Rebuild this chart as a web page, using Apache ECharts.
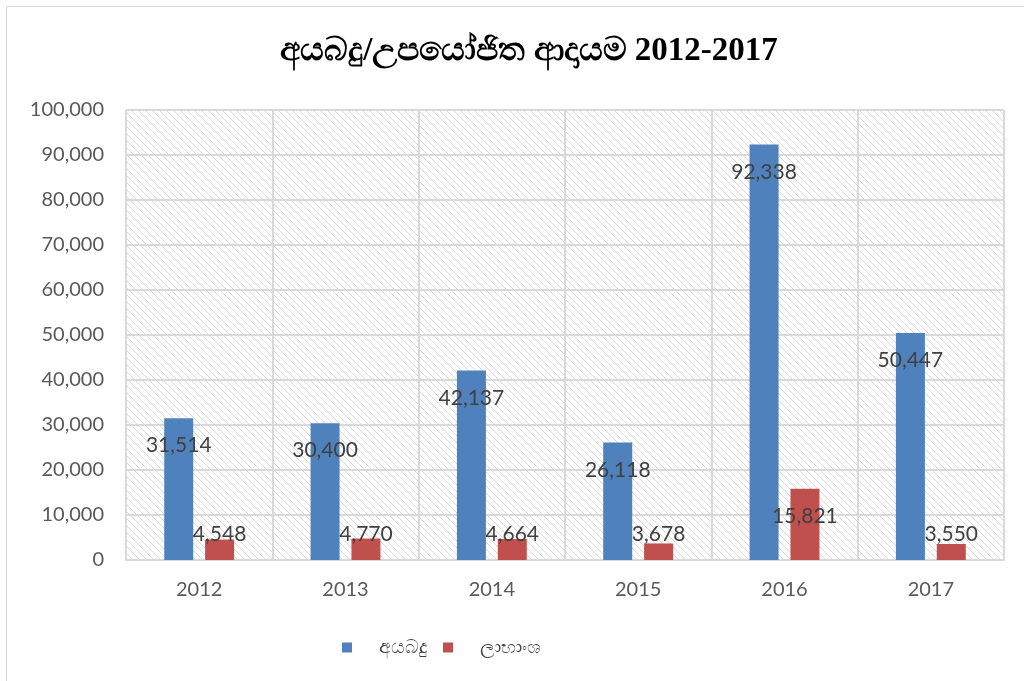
<!DOCTYPE html>
<html>
<head>
<meta charset="utf-8">
<script src="https://cdn.jsdelivr.net/npm/echarts@6/dist/echarts.min.js"></script>
<style>
  html, body { margin: 0; padding: 0; background: #fff; }
  #main { width: 1024px; height: 681px; }
</style>
</head>
<body>
<div id="main"></div>
<script>
const years = ['2012', '2013', '2014', '2015', '2016', '2017'];
const ayabadu = [31514, 30400, 42137, 26118, 92338, 50447];
const labhansha = [4548, 4770, 4664, 3678, 15821, 3550];
const seriesNames = ['අයබදු', 'ලාභාංශ'];
const titleText = 'අයබදු/උපයෝජිත ආදායම 2012-2017';

// diagonal hatch tile for the plot background
function makeHatch() {
  const n = 7;
  const c = document.createElement('canvas');
  c.width = n; c.height = n;
  const ctx = c.getContext('2d');
  ctx.fillStyle = '#ffffff';
  ctx.fillRect(0, 0, n, n);
  ctx.fillStyle = '#dadada';
  for (let i = 0; i < n; i++) {
    ctx.fillRect(i, i, 1, 1);
  }
  return c;
}

// labels sit a bit below the top, short bars get them near the base
function withLabels(values) {
  return values.map(v => ({
    value: v,
    label: v < 10000
      ? { position: 'insideBottom', distance: 15 }
      : { position: 'insideTop', distance: 17 }
  }));
}

const chart = echarts.init(document.getElementById('main'));
const labelFont = 'Lato, "Open Sans", sans-serif';

const option = {
  animation: false,
  backgroundColor: '#ffffff',
  title: {
    text: titleText,
    left: 524,
    top: 30,
    textAlign: 'center',
    textStyle: {
      fontFamily: '"Liberation Serif", "Noto Serif", serif',
      fontWeight: 'bold',
      fontSize: 33,
      color: '#000000'
    }
  },
  graphic: [{
    type: 'rect',
    shape: { x: 6.5, y: 6.5, width: 1040, height: 700 },
    style: { fill: 'none', stroke: '#d9d9d9', lineWidth: 1 },
    silent: true,
    z: -1
  }],
  legend: {
    data: seriesNames,
    left: 337,
    top: 633,
    icon: 'rect',
    itemWidth: 10,
    itemHeight: 10,
    itemGap: 16,
    textStyle: {
      fontSize: 19,
      color: '#404040',
      padding: [0, 0, 0, 22]
    }
  },
  grid: {
    left: 126,
    right: 20,
    top: 110,
    bottom: 121,
    show: true,
    borderWidth: 0,
    backgroundColor: { image: makeHatch(), repeat: 'repeat' }
  },
  xAxis: {
    type: 'category',
    data: years,
    axisLine: { lineStyle: { color: '#d9d9d9', width: 2 } },
    axisTick: { show: false },
    splitLine: { show: true, interval: 0, lineStyle: { color: '#d9d9d9', width: 2 } },
    axisLabel: {
      margin: 20,
      fontSize: 20,
      fontFamily: labelFont,
      color: '#595959'
    }
  },
  yAxis: {
    type: 'value',
    min: 0,
    max: 100000,
    interval: 10000,
    axisLine: { show: false },
    axisTick: { show: false },
    splitLine: { lineStyle: { color: '#d9d9d9', width: 2 } },
    axisLabel: {
      margin: 22,
      fontSize: 20,
      fontFamily: labelFont,
      color: '#595959',
      formatter: v => v.toLocaleString('en-US')
    }
  },
  series: [
    {
      name: seriesNames[0],
      type: 'bar',
      data: withLabels(ayabadu),
      barWidth: 29,
      barGap: '41%',
      itemStyle: { color: '#4f81bd' },
      label: {
        show: true,
        fontSize: 21,
        fontFamily: labelFont,
        color: '#404040',
        formatter: p => p.value.toLocaleString('en-US')
      }
    },
    {
      name: seriesNames[1],
      type: 'bar',
      data: withLabels(labhansha),
      barWidth: 29,
      itemStyle: { color: '#c0504d' },
      label: {
        show: true,
        fontSize: 21,
        fontFamily: labelFont,
        color: '#404040',
        formatter: p => p.value.toLocaleString('en-US')
      }
    }
  ]
};

chart.setOption(option);
</script>
</body>
</html>
